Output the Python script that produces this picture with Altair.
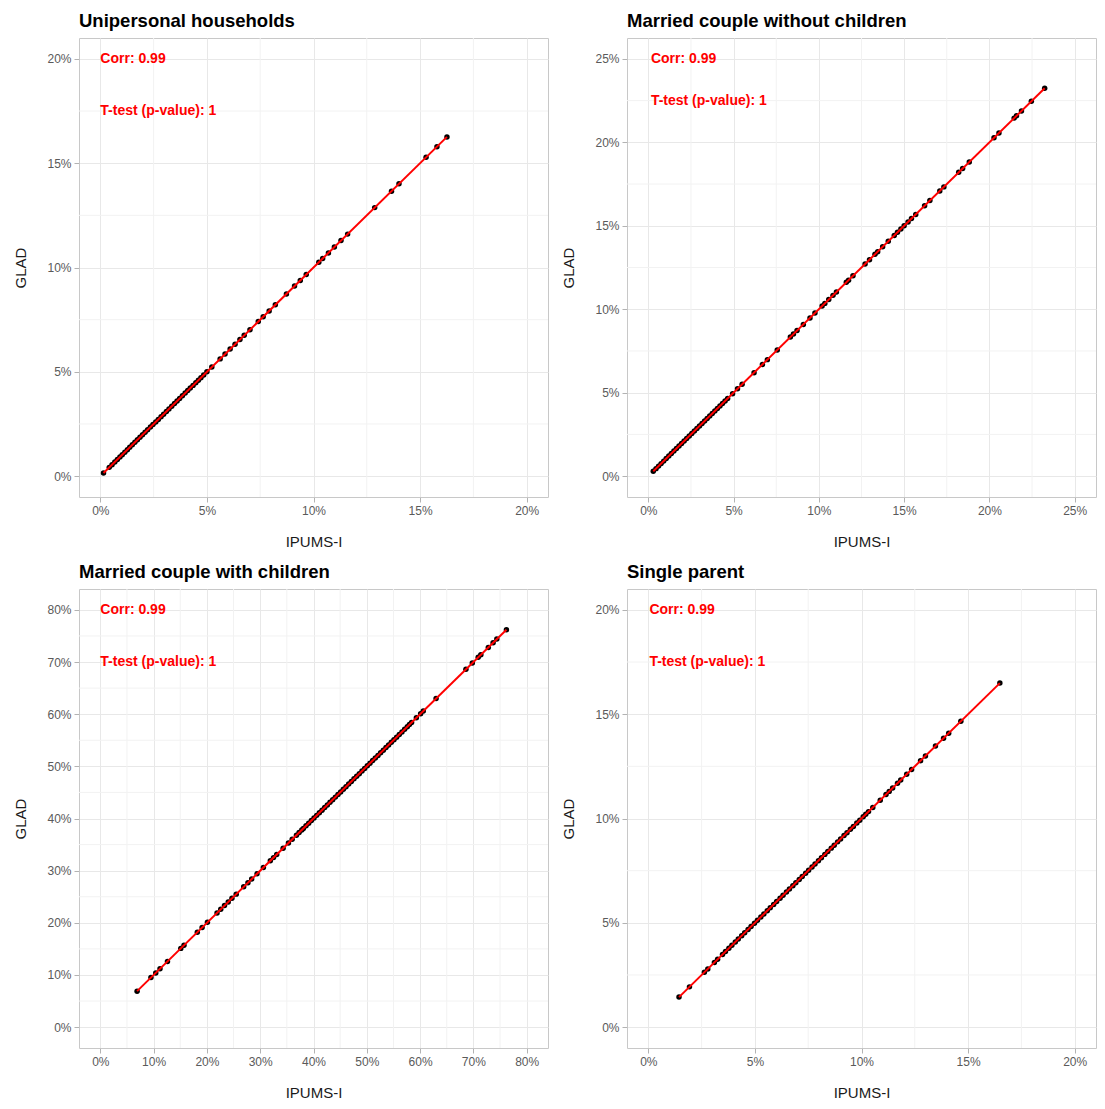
import altair as alt
import pandas as pd

FONT = "Liberation Sans"

titles = [
    "Unipersonal households",
    "Married couple without children",
    "Married couple with children",
    "Single parent",
]

# ---- values in percent ----
uni_ipums = [0.15, 0.42, 0.55, 0.68, 0.80, 0.92, 1.03, 1.15, 1.27, 1.38, 1.50, 1.62, 1.74,
             1.86, 1.98, 2.10, 2.22, 2.35, 2.47, 2.60, 2.72, 2.85, 2.97, 3.10, 3.22, 3.35,
             3.48, 3.60, 3.72, 3.85, 3.98, 4.10, 4.22, 4.35, 4.48, 4.60, 4.72, 4.85, 5.00,
             5.23, 5.62, 5.85, 6.09, 6.32, 6.55, 6.75, 7.02, 7.41, 7.64, 7.92, 8.21, 8.73,
             9.11, 9.38, 9.66, 10.25, 10.43, 10.70, 10.98, 11.29, 11.60, 12.87, 13.66,
             14.01, 15.28, 15.79, 16.26]
uni_glad = [0.15, 0.42, 0.55, 0.68, 0.80, 0.92, 1.03, 1.15, 1.27, 1.38, 1.50, 1.62, 1.74,
            1.86, 1.98, 2.10, 2.22, 2.35, 2.47, 2.60, 2.72, 2.85, 2.97, 3.10, 3.22, 3.35,
            3.48, 3.60, 3.72, 3.85, 3.98, 4.10, 4.22, 4.35, 4.48, 4.60, 4.72, 4.85, 5.00,
            5.23, 5.62, 5.85, 6.09, 6.32, 6.55, 6.75, 7.02, 7.41, 7.64, 7.92, 8.21, 8.73,
            9.11, 9.38, 9.66, 10.25, 10.43, 10.70, 10.98, 11.29, 11.60, 12.87, 13.66,
            14.01, 15.28, 15.79, 16.26]

nochild_ipums = [0.29, 0.45, 0.60, 0.75, 0.90, 1.05, 1.20, 1.35, 1.50, 1.65, 1.80, 1.95,
                 2.10, 2.25, 2.40, 2.55, 2.70, 2.85, 3.00, 3.15, 3.30, 3.45, 3.60, 3.75,
                 3.90, 4.05, 4.20, 4.35, 4.50, 4.65, 4.94, 5.23, 5.50, 6.20, 6.69, 6.98,
                 7.56, 8.33, 8.51, 8.72, 9.09, 9.48, 9.77, 10.19, 10.35, 10.58, 10.83,
                 11.03, 11.61, 11.74, 12.00, 12.71, 12.97, 13.29, 13.45, 13.74, 14.07,
                 14.42, 14.61, 14.81, 15.00, 15.23, 15.43, 15.68, 16.20, 16.51, 17.09,
                 17.33, 18.20, 18.43, 18.82, 20.27, 20.56, 21.45, 21.59, 21.88, 22.46, 23.24]
nochild_glad = [0.29, 0.45, 0.60, 0.75, 0.90, 1.05, 1.20, 1.35, 1.50, 1.65, 1.80, 1.95,
                2.10, 2.25, 2.40, 2.55, 2.70, 2.85, 3.00, 3.15, 3.30, 3.45, 3.60, 3.75,
                3.90, 4.05, 4.20, 4.35, 4.50, 4.65, 4.94, 5.23, 5.50, 6.20, 6.69, 6.98,
                7.56, 8.33, 8.51, 8.72, 9.09, 9.48, 9.77, 10.19, 10.35, 10.58, 10.83,
                11.03, 11.61, 11.74, 12.00, 12.71, 12.97, 13.29, 13.45, 13.74, 14.07,
                14.42, 14.61, 14.81, 15.00, 15.23, 15.43, 15.68, 16.20, 16.51, 17.09,
                17.33, 18.20, 18.43, 18.82, 20.27, 20.56, 21.45, 21.59, 21.88, 22.46, 23.24]

child_ipums = [6.9, 9.5, 10.4, 11.2, 12.6, 15.1, 15.7, 18.2, 19.1, 20.1, 21.9, 22.6, 23.3,
               24.0, 24.7, 25.5, 26.9, 27.7, 28.4, 29.4, 30.6, 31.9, 32.5, 33.1, 34.3, 35.3,
               36.0, 36.8, 37.3, 37.8, 38.1, 38.6, 39.1, 39.6, 40.1, 40.6, 41.1, 41.6, 42.1,
               42.6, 43.1, 43.6, 44.1, 44.6, 45.1, 45.6, 46.1, 46.6, 47.1, 47.6, 48.1, 48.6,
               49.1, 49.6, 50.1, 50.6, 51.1, 51.6, 52.1, 52.6, 53.1, 53.6, 54.1, 54.6, 55.1,
               55.6, 56.1, 56.6, 57.1, 57.6, 58.0, 58.4, 59.3, 60.1, 60.6, 63.0, 68.6, 69.8,
               70.9, 71.4, 72.8, 73.7, 74.4, 76.2]
child_glad = [6.9, 9.5, 10.4, 11.2, 12.6, 15.1, 15.7, 18.2, 19.1, 20.1, 21.9, 22.6, 23.3,
              24.0, 24.7, 25.5, 26.9, 27.7, 28.4, 29.4, 30.6, 31.9, 32.5, 33.1, 34.3, 35.3,
              36.0, 36.8, 37.3, 37.8, 38.1, 38.6, 39.1, 39.6, 40.1, 40.6, 41.1, 41.6, 42.1,
              42.6, 43.1, 43.6, 44.1, 44.6, 45.1, 45.6, 46.1, 46.6, 47.1, 47.6, 48.1, 48.6,
              49.1, 49.6, 50.1, 50.6, 51.1, 51.6, 52.1, 52.6, 53.1, 53.6, 54.1, 54.6, 55.1,
              55.6, 56.1, 56.6, 57.1, 57.6, 58.0, 58.4, 59.3, 60.1, 60.6, 63.0, 68.6, 69.8,
              70.9, 71.4, 72.8, 73.7, 74.4, 76.2]

single_ipums = [1.44, 1.93, 2.63, 2.79, 3.10, 3.25, 3.48, 3.62, 3.78, 3.92, 4.08, 4.22, 4.38,
                4.52, 4.68, 4.82, 4.98, 5.12, 5.28, 5.42, 5.58, 5.72, 5.88, 6.02, 6.18, 6.32,
                6.48, 6.62, 6.78, 6.92, 7.08, 7.22, 7.38, 7.52, 7.68, 7.82, 7.98, 8.12, 8.28,
                8.42, 8.58, 8.72, 8.88, 9.02, 9.18, 9.32, 9.48, 9.62, 9.78, 9.92, 10.08, 10.20,
                10.33, 10.53, 10.88, 11.15, 11.30, 11.46, 11.69, 11.84, 12.12, 12.35, 12.77,
                13.00, 13.47, 13.85, 14.09, 14.66, 16.49]
single_glad = [1.44, 1.93, 2.63, 2.79, 3.10, 3.25, 3.48, 3.62, 3.78, 3.92, 4.08, 4.22, 4.38,
               4.52, 4.68, 4.82, 4.98, 5.12, 5.28, 5.42, 5.58, 5.72, 5.88, 6.02, 6.18, 6.32,
               6.48, 6.62, 6.78, 6.92, 7.08, 7.22, 7.38, 7.52, 7.68, 7.82, 7.98, 8.12, 8.28,
               8.42, 8.58, 8.72, 8.88, 9.02, 9.18, 9.32, 9.48, 9.62, 9.78, 9.92, 10.08, 10.20,
               10.33, 10.53, 10.88, 11.15, 11.30, 11.46, 11.69, 11.84, 12.12, 12.35, 12.77,
               13.00, 13.47, 13.85, 14.09, 14.66, 16.49]

corr_labels = ["Corr: 0.99", "Corr: 0.99", "Corr: 0.99", "Corr: 0.99"]
ttest_labels = ["T-test (p-value): 1", "T-test (p-value): 1",
                "T-test (p-value): 1", "T-test (p-value): 1"]
label_x = [0.0, 0.15, 0.0, 0.05]
corr_y = [20.0, 25.0, 80.0, 20.0]
ttest_y = [17.5, 22.5, 70.0, 17.5]

domains = [[-1, 21], [-1.25, 26.25], [-4, 84], [-1, 21]]
major_ticks = [[0, 5, 10, 15, 20], [0, 5, 10, 15, 20, 25],
               [0, 10, 20, 30, 40, 50, 60, 70, 80], [0, 5, 10, 15, 20]]
minor_ticks = [[2.5, 7.5, 12.5, 17.5], [2.5, 7.5, 12.5, 17.5, 22.5],
               [5, 15, 25, 35, 45, 55, 65, 75], [2.5, 7.5, 12.5, 17.5]]

series = [(uni_ipums, uni_glad), (nochild_ipums, nochild_glad),
          (child_ipums, child_glad), (single_ipums, single_glad)]

W, H = 469, 459
MINOR = "#f2f2f2"


def panel(i):
    xs, ys = series[i]
    df = pd.DataFrame({"ipums": [v / 100 for v in xs], "glad": [v / 100 for v in ys]})
    dom = [d / 100 for d in domains[i]]
    vals = [t / 100 for t in major_ticks[i]]
    xsc = alt.Scale(domain=dom, nice=False, zero=False)
    ysc = alt.Scale(domain=dom, nice=False, zero=False)
    xaxis = alt.Axis(values=vals, format=".0%", title="IPUMS-I")
    yaxis = alt.Axis(values=vals, format=".0%", title="GLAD")

    mdf = pd.DataFrame({"m": [m / 100 for m in minor_ticks[i]]})
    vmin = alt.Chart(mdf).mark_rule(color=MINOR, strokeWidth=1).encode(
        x=alt.X("m:Q", scale=xsc, axis=xaxis))
    hmin = alt.Chart(mdf).mark_rule(color=MINOR, strokeWidth=1).encode(
        y=alt.Y("m:Q", scale=ysc, axis=yaxis))

    base = alt.Chart(df)
    pts = base.mark_circle(size=30, color="black", opacity=1).encode(
        x=alt.X("ipums:Q", scale=xsc, axis=xaxis),
        y=alt.Y("glad:Q", scale=ysc, axis=yaxis))
    line = base.transform_regression("ipums", "glad").mark_line(
        color="#FF0000", strokeWidth=2).encode(
        x=alt.X("ipums:Q", scale=xsc, axis=xaxis),
        y=alt.Y("glad:Q", scale=ysc, axis=yaxis))

    tdf = pd.DataFrame({
        "x": [label_x[i] / 100, label_x[i] / 100],
        "y": [corr_y[i] / 100, ttest_y[i] / 100],
        "label": [corr_labels[i], ttest_labels[i]],
    })
    txt = alt.Chart(tdf).mark_text(
        align="left", baseline="middle", color="#FF0000", fontWeight="bold",
        fontSize=14, font=FONT).encode(
        x=alt.X("x:Q", scale=xsc, axis=xaxis),
        y=alt.Y("y:Q", scale=ysc, axis=yaxis),
        text="label:N")

    return alt.layer(vmin, hmin, pts, line, txt).properties(
        width=W, height=H,
        title=alt.TitleParams(titles[i], anchor="start", frame="group", fontSize=18.5,
                              fontWeight="bold", font=FONT, color="#000000", offset=7))


chart = alt.concat(panel(0), panel(1), panel(2), panel(3), columns=2, spacing=12).properties(
    padding={"left": 5, "top": 3, "right": 0, "bottom": 0}, background="white"
).configure_view(stroke="#c8c8c8", strokeWidth=1).configure_axis(
    labelFont=FONT, labelFontSize=12, labelColor="#5a5a5a", tickColor="#b3b3b3",
    tickSize=5, tickWidth=1, domain=False, grid=True, gridColor="#e8e8e8", gridWidth=1,
    titleFont=FONT, titleFontSize=15, titleFontWeight="normal", titleColor="#1a1a1a",
    labelPadding=3
).configure_axisX(titlePadding=18).configure_axisY(titlePadding=18)

chart.save("out.html", embed_options={"renderer": "svg", "actions": False})
